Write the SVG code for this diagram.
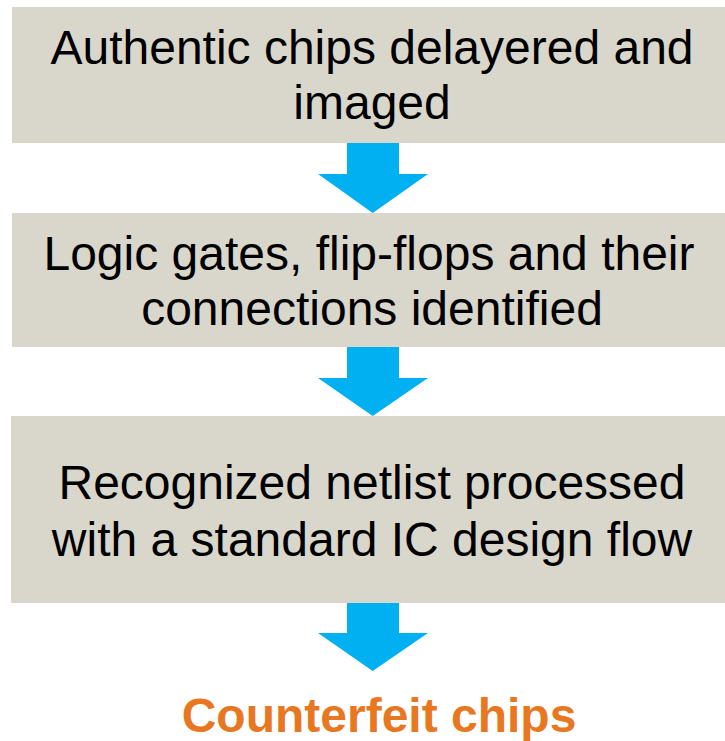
<svg xmlns="http://www.w3.org/2000/svg" width="725" height="741" viewBox="0 0 725 741">
  <style>
    .box { fill: #D9D7CB; }
    .label { font-family: "Liberation Sans", Arial, sans-serif; font-size: 48px; fill: #000000; text-anchor: middle; }
    .result { font-family: "Liberation Sans", Arial, sans-serif; font-size: 48px; font-weight: bold; fill: #E87722; text-anchor: middle; }
    .arrow { fill: #00B0F0; }
  </style>
  <rect width="725" height="741" fill="#FFFFFF"/>

  <g id="step-imaging">
    <rect class="box" x="12" y="7" width="713" height="136"/>
    <text class="label" x="372" y="63.5">Authentic chips delayered and</text>
    <text class="label" x="372" y="119">imaged</text>
  </g>

  <g id="step-identification">
    <rect class="box" x="12" y="213" width="713" height="134"/>
    <text class="label" x="369" y="269.5">Logic gates, flip-flops and their</text>
    <text class="label" x="372" y="325">connections identified</text>
  </g>

  <g id="step-design-flow">
    <rect class="box" x="11" y="416" width="714" height="187"/>
    <text class="label" x="372" y="498.5">Recognized netlist processed</text>
    <text class="label" x="372" y="556">with a standard IC design flow</text>
  </g>

  <g id="result">
    <text class="result" x="379" y="731.5">Counterfeit chips</text>
  </g>

  <g id="connectors">
    <polygon class="arrow" points="347,143 399,143 399,174 428,174 372.7,213 318,174 347,174"/>
    <polygon class="arrow" points="347,347 399,347 399,378 428,378 372.7,416 318,378 347,378"/>
    <polygon class="arrow" points="347,603 399,603 399,633 428,633 372.7,671 318,633 347,633"/>
  </g>
</svg>
